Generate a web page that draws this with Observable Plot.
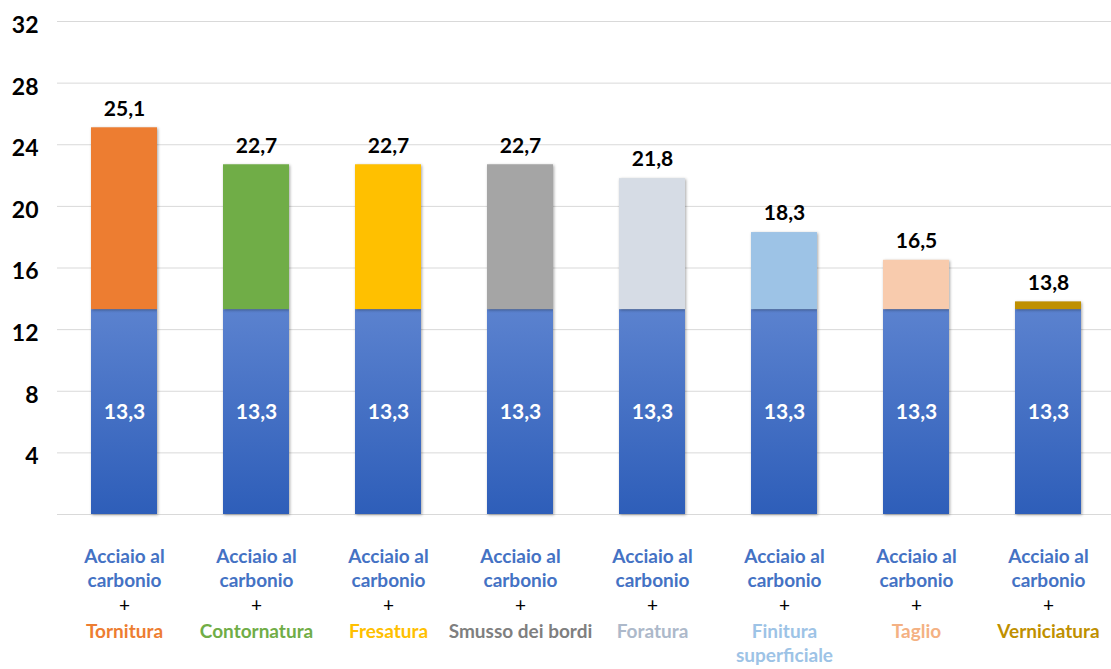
<!DOCTYPE html>
<html><head><meta charset="utf-8">
<script src="https://cdn.jsdelivr.net/npm/d3@7"></script>
<script src="https://cdn.jsdelivr.net/npm/@observablehq/plot@0.6"></script>
<style>
body{margin:0;background:#fff;}
g[aria-label="bar"] rect{filter:drop-shadow(1px 1px 1.5px rgba(0,0,0,0.35));}
</style>
</head><body><div id="chart"></div>
<script>
const categories = ["Tornitura","Contornatura","Fresatura","Smusso dei bordi","Foratura","Finitura superficiale","Taglio","Verniciatura"];
const axisNames = ["Tornitura","Contornatura","Fresatura","Smusso dei bordi","Foratura","Finitura\nsuperficiale","Taglio","Verniciatura"];
const baseName = "Acciaio al\ncarbonio";
const baseValues = [13.3,13.3,13.3,13.3,13.3,13.3,13.3,13.3];
const totals = [25.1,22.7,22.7,22.7,21.8,18.3,16.5,13.8];
const segmentColors = ["#ED7D31","#70AD47","#FFC000","#A5A5A5","#D6DCE5","#9DC3E6","#F8CBAD","#BF9000"];
const labelColors = ["#ED7D31","#70AD47","#FFC000","#7F7F7F","#ADB9CA","#9DC3E6","#F4B183","#BF9000"];
const yTicks = [4,8,12,16,20,24,28,32];
const gridTicks = [0,4,8,12,16,20,24,28,32];

const rows = categories.map((c,i)=>({cat:c, name:axisNames[i], base:baseValues[i], total:totals[i], color:segmentColors[i], lcolor:labelColors[i]}));
const fmt = v => v.toFixed(1).replace(".", ",");
const F = "Lato, 'Open Sans', sans-serif";

const chart = Plot.plot({
  width:1111, height:669,
  marginTop:21, marginBottom:155, marginLeft:57, marginRight:-3,
  style:{fontFamily:F, background:"#fff", overflow:"visible"},
  x:{domain:categories, paddingInner:0.5, paddingOuter:0.25, axis:null},
  y:{domain:[0,32], axis:null},
  color:{type:"identity"},
  marks:[
    Plot.gridY(gridTicks, {stroke:"#d9d9d9", strokeOpacity:1, strokeWidth:1}),
    Plot.axisY(yTicks, {tickSize:0, tickPadding:19, fontSize:23, fontWeight:"bold", fill:"#000", dy:4, label:null}),
    Plot.barY(rows, {x:"cat", y1:0, y2:"base", fill:"url(#blueGrad)"}),
    Plot.barY(rows, {x:"cat", y1:"base", y2:"total", fill:"color"}),
    Plot.text(rows, {x:"cat", y:"total", text:d=>fmt(d.total), dy:-19, fontSize:21, fontWeight:"bold", fill:"#000"}),
    Plot.text(rows, {x:"cat", y:d=>d.base/2, text:d=>fmt(d.base), fontSize:21, fontWeight:"bold", fill:"#fff"}),
    Plot.text(rows, {x:"cat", y:0, text:()=>baseName, lineAnchor:"top", dy:31, lineHeight:1.28, fontSize:19, fontWeight:"bold", fill:"#4472C4"}),
    Plot.text(rows, {x:"cat", y:0, text:()=>"+", lineAnchor:"top", dy:84, fontSize:19, fill:"#000"}),
    Plot.text(rows, {x:"cat", y:0, text:"name", lineAnchor:"top", dy:106, lineHeight:1.28, fontSize:19, fontWeight:"bold", fill:"lcolor"})
  ]
});

const ns = "http://www.w3.org/2000/svg";
const defs = document.createElementNS(ns, "defs");
const grad = document.createElementNS(ns, "linearGradient");
grad.setAttribute("id","blueGrad");
grad.setAttribute("x1","0"); grad.setAttribute("y1","0"); grad.setAttribute("x2","0"); grad.setAttribute("y2","1");
[["0%","#5B82CF"],["100%","#2E5EB9"]].forEach(([o,c])=>{
  const s = document.createElementNS(ns,"stop");
  s.setAttribute("offset",o); s.setAttribute("stop-color",c);
  grad.appendChild(s);
});
defs.appendChild(grad);
chart.insertBefore(defs, chart.firstChild);
document.getElementById("chart").appendChild(chart);
</script>
</body></html>
